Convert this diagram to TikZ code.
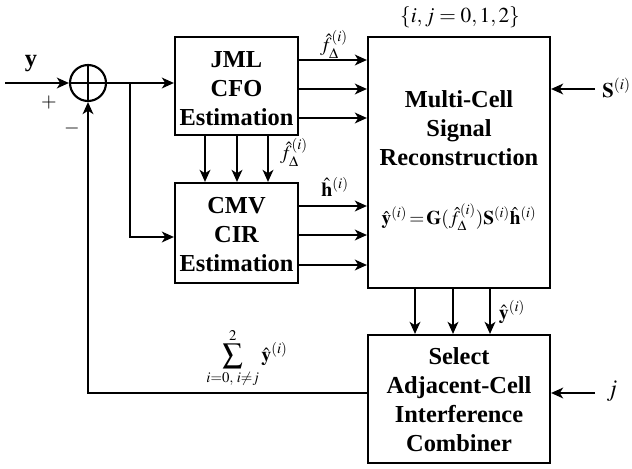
\documentclass[tikz,border=0pt]{standalone}
\usepackage{mathptmx}
\usepackage{fontspec}
\setmainfont{Liberation Serif}
\usetikzlibrary{arrows.meta,calc}
\begin{document}
\begin{tikzpicture}[x=0.75pt,y=-0.75pt,
  line width=1.6pt,
  arr/.style={-{Stealth[length=9pt,width=8pt,inset=2.5pt]}},
  blk/.style={draw,line width=1.6pt,inner sep=0pt,align=center,
    font=\fontsize{18.3}{21.75}\selectfont\bfseries},
  lbl/.style={inner sep=1pt,font=\fontsize{15}{17}\selectfont}]
\useasboundingbox (0,0) rectangle (632,468);
% boxes
\node[blk,minimum width=92.25pt,minimum height=73.5pt] (jml) at (236.5,86) {};
\node[blk,draw=none] (jmlt) at (236.5,88.5) {JML\\CFO\\Estimation};
\node[blk,minimum width=92.25pt,minimum height=75pt] (cmv) at (236.5,233) {};
\node[blk,draw=none] (cmvt) at (236.5,234.5) {CMV\\CIR\\Estimation};
\node[blk,minimum width=136.5pt,minimum height=188.25pt] (mc) at (459,162.5) {};
\node[blk,draw=none] (mct) at (459,128.5) {Multi-Cell\\Signal\\Reconstruction};
\node[lbl,font=\fontsize{14.5}{17}\selectfont] (eq) at (459,217) {$\hat{\mathbf y}^{(i)}\!=\!\mathbf{G}(\hat f_{\Delta}^{(i)})\mathbf{S}^{(i)}\hat{\mathbf h}^{(i)}$};
\node[blk,minimum width=136.5pt,minimum height=96pt] (sel) at (459,399) {};
\node[blk,draw=none] (selt) at (459,399.5) {Select\\Adjacent-Cell\\Interference\\Combiner};
% summation
\node[draw,circle,line width=1.6pt,minimum size=27pt,inner sep=0pt] (sum) at (88,83) {};
\draw (sum.north) -- (sum.south) (sum.west) -- (sum.east);
% input
\coordinate (in) at (5,83);
\draw[arr] (in) -- (sum.west);
\node[blk,draw=none] (ylab) at (31,64) {y};
\node[lbl] (plus) at (49,103) {$+$};
\node[lbl] (minus) at (72,128) {$-$};
% sum to blocks
\coordinate (br) at (130,83);
\coordinate (brd) at (130,237);
\draw[arr] (sum.east) -- (jml.west |- sum.east);
\draw[arr] (br) -- (brd) -- (cmv.west |- brd);
% JML -> MC
\foreach \yy [count=\k] in {60,89,118} {
  \coordinate (a\k) at (0,\yy);
  \draw[arr] (jml.east |- a\k) -- (mc.west |- a\k);
}
\node[lbl] (f1) at (334,44) {$\hat f_{\Delta}^{(i)}$};
% JML -> CMV
\foreach \xx [count=\k] in {205,237,268} {
  \coordinate (b\k) at (\xx,0);
  \draw[arr] (jml.south -| b\k) -- (cmv.north -| b\k);
}
\node[lbl] (f2) at (294,152) {$\hat f_{\Delta}^{(i)}$};
% CMV -> MC
\foreach \yy [count=\k] in {206,235,265} {
  \coordinate (c\k) at (0,\yy);
  \draw[arr] (cmv.east |- c\k) -- (mc.west |- c\k);
}
\node[lbl] (h1) at (335,187) {$\hat{\mathbf h}^{(i)}$};
% MC -> Select
\foreach \xx [count=\k] in {415,453,490} {
  \coordinate (d\k) at (\xx,0);
  \draw[arr] (mc.south -| d\k) -- (sel.north -| d\k);
}
\node[lbl] (y2) at (512,312) {$\hat{\mathbf y}^{(i)}$};
% S input
\coordinate (sin) at (595,89);
\draw[arr] (sin) -- (mc.east |- sin);
\node[lbl,anchor=west,font=\fontsize{15.5}{18}\selectfont] (slab) at (600,88) {$\mathbf{S}^{(i)}$};
% j input
\coordinate (jin) at (595,393);
\draw[arr] (jin) -- (sel.east |- jin);
\node[lbl,anchor=west,font=\fontsize{18}{20}\selectfont] (jlab) at (604,391) {$j$};
% set label
\node[lbl,font=\fontsize{16}{18}\selectfont] (set) at (460,17) {$\{i,j=0,1,2\}$};
% feedback
\coordinate (fb) at (88,393);
\draw[arr] (sel.west |- fb) -- (fb) -- (sum.south);
\node[lbl] (suml) at (247,358) {$\displaystyle\sum_{i=0,\;i\neq j}^{2}\hat{\mathbf y}^{(i)}$};
\end{tikzpicture}
\end{document}
